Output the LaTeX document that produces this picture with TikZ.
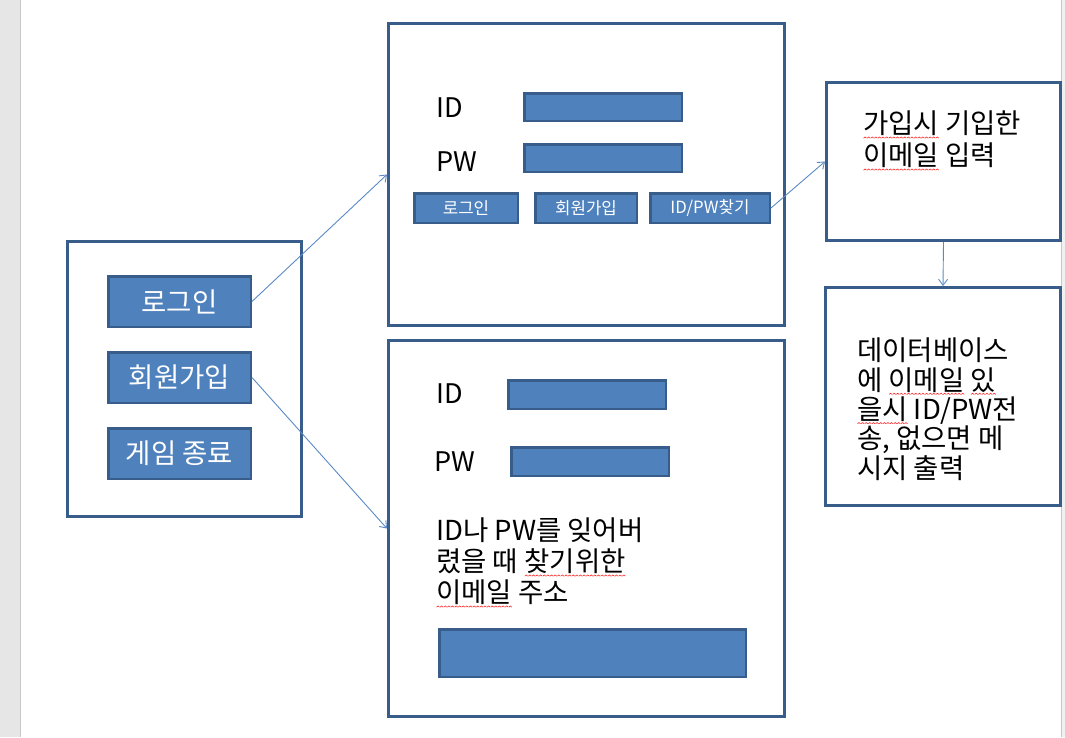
\documentclass[tikz,border=0pt]{standalone}
\usepackage{fontspec}
\setmainfont{Noto Sans CJK KR}
\usetikzlibrary{positioning,arrows.meta}
\definecolor{rim}{HTML}{385D8A}
\definecolor{fieldfill}{HTML}{4F81BD}
\definecolor{linkblue}{HTML}{5A8AC6}
\definecolor{gutter}{HTML}{E6E6E6}
\definecolor{gutterline}{HTML}{C8C8C8}
\newsavebox\wavebox
\newcommand\spellwave[1]{\leavevmode\setbox0\hbox{#1}%
  \rlap{\lower4.5pt\hbox to\wd0{\xleaders\copy\wavebox\hfil}}\box0\relax}
\tikzset{
  frame/.style={draw=rim,line width=3pt,fill=white,inner sep=0pt},
  field/.style={draw=rim,line width=2.5pt,fill=fieldfill,inner sep=0pt},
  fieldname/.style={anchor=west,inner sep=0pt,font=\fontsize{27}{32}\selectfont},
  note/.style={anchor=north west,align=left,inner sep=0pt},
  linkarrow/.style={-{Straight Barb[length=6pt,width=9pt]},draw=linkblue,line width=0.9pt},
}
\begin{document}
\sbox\wavebox{\begin{pgfpicture}
  \pgfsetlinewidth{0.6pt}\pgfsetstrokecolor{red!85}
  \pgfpathmoveto{\pgfpoint{0pt}{0pt}}
  \pgfpathlineto{\pgfpoint{1.5pt}{1.2pt}}
  \pgfpathlineto{\pgfpoint{3pt}{0pt}}
  \pgfusepath{stroke}
\end{pgfpicture}}%
\begin{tikzpicture}[x=1pt,y=-1pt,
  menubtn/.style={field,minimum width=142.5pt,minimum height=50.5pt,text=white,font=\fontsize{27.5}{30}\selectfont},
  smallbtn/.style={field,minimum height=29.5pt,text=white,font=\fontsize{16.8}{18}\selectfont}]
  \useasboundingbox (0,0) rectangle (1065,737);
  % page gutters
  \fill[gutter] (0,0) rectangle (20,737);
  \draw[gutterline,line width=1pt] (20.5,0) -- (20.5,737);
  \fill[gutter!60] (1061,0) rectangle (1065,737);
  \draw[gutterline,line width=1pt] (1061.5,0) -- (1061.5,737);
  % start menu
  \node[frame,minimum width=234pt,minimum height=275pt] (menu) at (184.5,379) {};
  \node[menubtn] (menulogin) at (179.5,301.5) {로그인};
  \node[menubtn,below=23pt of menulogin] (menusignup) {회원가입};
  \node[menubtn,below=23pt of menusignup] (menuquit) {게임 종료};
  % login screen
  \node[frame,minimum width=396pt,minimum height=302pt] (loginscreen) at (586.5,174.5) {};
  \node[fieldname] (loginidname) at (436,108) {ID};
  \node[fieldname] (loginpwname) at (436,162) {PW};
  \node[field,minimum width=157.5pt,minimum height=27.5pt] (loginid) at (603,107) {};
  \node[field,minimum width=157.5pt,minimum height=27.5pt,below=21pt of loginid] (loginpw) {};
  \node[smallbtn,minimum width=103.5pt] (btnlogin) at (466,208) {로그인};
  \node[smallbtn,minimum width=101.5pt,right=15pt of btnlogin] (btnsignup) {회원가입};
  \node[smallbtn,minimum width=119.5pt,right=11pt of btnsignup] (btnfind) {ID/PW찾기};
  % signup screen
  \node[frame,minimum width=396pt,minimum height=376pt] (signupscreen) at (586.5,528.5) {};
  \node[fieldname] (signupidname) at (436,394) {ID};
  \node[fieldname] (signuppwname) at (434,462) {PW};
  \node[field,minimum width=157.5pt,minimum height=28.5pt] (signupid) at (587,394.5) {};
  \node[field,minimum width=157.5pt,minimum height=28.5pt] (signuppw) at (590,461.5) {};
  \node[note,font=\fontsize{27.5}{31}\selectfont] (signupnote) at (436,518)
    {ID나 PW를 잊어버\\렸을 때 \spellwave{찾기위한}\\\spellwave{이메일} 주소};
  \node[field,minimum width=306.5pt,minimum height=47.5pt] (signupmail) at (592.5,653) {};
  % find ID/PW
  \node[frame,minimum width=234pt,minimum height=158pt] (mailbox) at (943.5,161.5) {};
  \node[note,font=\fontsize{27.5}{32}\selectfont] (mailnote) at (863,111)
    {\spellwave{가입시} 기입한\\\spellwave{이메일} 입력};
  \node[frame,minimum width=235pt,minimum height=218pt] (dbbox) at (943,396.5) {};
  \node[note,font=\fontsize{27.5}{29.3}\selectfont] (dbnote) at (857,338)
    {데이터베이스\\에 \spellwave{이메일} \spellwave{있}\\\spellwave{을시} ID/PW전\\송, 없으면 메\\시지 출력};
  % connectors
  \draw[linkarrow] (menulogin.east) -- (loginscreen.west);
  \draw[linkarrow] (menusignup.east) -- (signupscreen.west);
  \draw[linkarrow] (btnfind.east) -- (mailbox.west);
  \draw[linkarrow] (mailbox.south) -- (dbbox.north);
\end{tikzpicture}
\end{document}
